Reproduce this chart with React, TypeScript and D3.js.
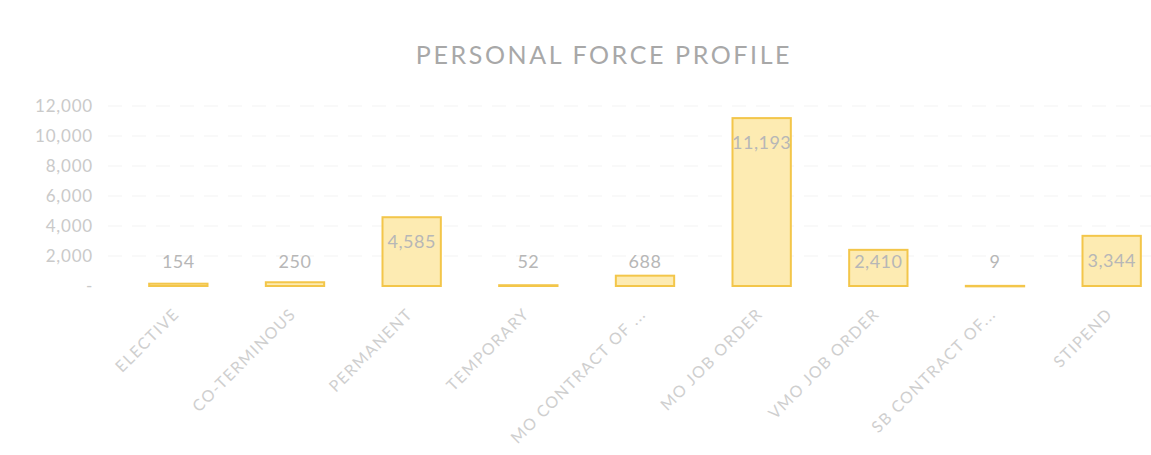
// App.tsx
import React, { useRef, useEffect } from 'react';
import * as d3 from 'd3';

const categories = [
  'ELECTIVE',
  'CO-TERMINOUS',
  'PERMANENT',
  'TEMPORARY',
  'MO CONTRACT OF ...',
  'MO JOB ORDER',
  'VMO JOB ORDER',
  'SB CONTRACT OF...',
  'STIPEND',
];
const counts = [154, 250, 4585, 52, 688, 11193, 2410, 9, 3344];
const yTicks = [0, 2000, 4000, 6000, 8000, 10000, 12000];

const W = 1151;
const H = 455;

const App = () => {
  const svgRef = useRef<SVGSVGElement | null>(null);

  useEffect(() => {
    const font = 'Lato, "Open Sans", sans-serif';
    const margin = { top: 106, left: 120, bottom: 286 };

    d3.select(svgRef.current).selectAll('*').remove();
    const svg = d3.select(svgRef.current)
      .attr('width', W)
      .attr('height', H);

    const x = d3.scaleBand<string>()
      .domain(categories)
      .range([margin.left, margin.left + 1050])
      .paddingInner(0.5)
      .paddingOuter(0.25);

    const y = d3.scaleLinear()
      .domain([0, 12000])
      .range([margin.bottom, margin.top]);

    // Title
    svg.append('text')
      .attr('x', 604)
      .attr('y', 64)
      .attr('text-anchor', 'middle')
      .style('font-family', font)
      .style('font-size', '25px')
      .style('letter-spacing', '2.6px')
      .attr('fill', '#a8a8a8')
      .text('PERSONAL FORCE PROFILE');

    // Gridlines
    svg.append('g')
      .selectAll('line')
      .data(yTicks.slice(1))
      .enter()
      .append('line')
      .attr('x1', 108)
      .attr('x2', 1151)
      .attr('y1', d => y(d))
      .attr('y2', d => y(d))
      .attr('stroke', '#f3f3f3')
      .attr('stroke-width', 1)
      .attr('stroke-dasharray', '14,10');

    // Y axis labels
    const yAxis = svg.append('g')
      .attr('transform', 'translate(107,0)')
      .call(d3.axisLeft(y).tickValues(yTicks).tickSize(0).tickPadding(14)
        .tickFormat(d => (+d === 0 ? '-' : d3.format(',')(+d))));
    yAxis.select('.domain').remove();
    yAxis.selectAll('text')
      .style('font-family', font)
      .style('font-size', '17px')
      .style('letter-spacing', '0.8px')
      .attr('fill', '#cacaca');

    // Bars
    svg.selectAll('.bar')
      .data(counts)
      .enter()
      .append('rect')
      .attr('class', 'bar')
      .attr('x', (d, i) => x(categories[i])!)
      .attr('y', d => y(d))
      .attr('width', x.bandwidth())
      .attr('height', d => Math.max(y(0) - y(d), 0.5))
      .attr('fill', '#fdebb2')
      .attr('stroke', '#f3c64a')
      .attr('stroke-width', 2);

    // Value labels
    svg.selectAll('.label')
      .data(counts)
      .enter()
      .append('text')
      .attr('class', 'label')
      .attr('x', (d, i) => x(categories[i])! + x.bandwidth() / 2)
      .attr('y', d => Math.min(y(d) + 31, y(0) - 18))
      .attr('text-anchor', 'middle')
      .style('font-family', font)
      .style('font-size', '18px')
      .style('letter-spacing', '0.5px')
      .attr('fill', '#b7b7b7')
      .text(d => d3.format(',')(d));

    // X labels
    svg.selectAll('.xlabel')
      .data(categories)
      .enter()
      .append('text')
      .attr('class', 'xlabel')
      .attr('transform', d => `translate(${x(d)! + x.bandwidth() / 2 + 2},${y(0) + 29}) rotate(-45)`)
      .attr('text-anchor', 'end')
      .style('font-family', font)
      .style('font-size', '16px')
      .style('letter-spacing', '1.4px')
      .attr('fill', '#cfcfcf')
      .text(d => d);
  }, []);

  return (
    <div style={{ position: 'absolute', left: 0, top: 0, background: '#fff' }}>
      <svg ref={svgRef} style={{ display: 'block' }}></svg>
    </div>
  );
};

export default App;
